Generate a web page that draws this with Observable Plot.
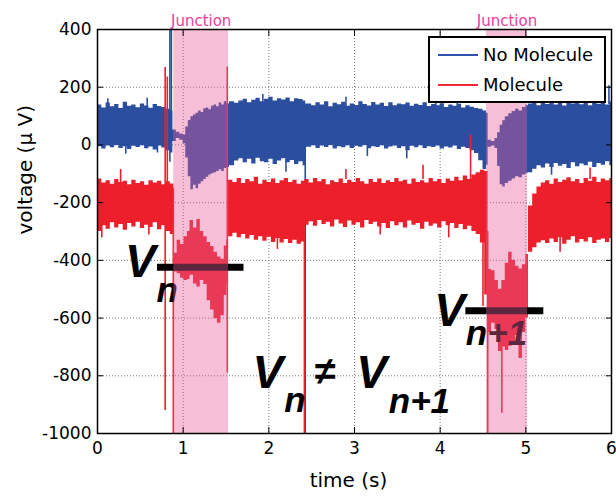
<!DOCTYPE html>
<html><head><meta charset="utf-8">
<script src="https://cdn.jsdelivr.net/npm/d3@7"></script>
<script src="https://cdn.jsdelivr.net/npm/@observablehq/plot@0.6"></script>
<style>
body{margin:0;background:#fff;}
#wrap{position:relative;width:616px;height:496px;}
#legend{position:absolute;left:428px;top:36px;width:174px;height:63px;border:2px solid #000;background:#fff;font-family:"DejaVu Sans",sans-serif;font-size:18px;color:#000;}
#legend .sw{position:absolute;left:8px;width:40px;height:0;border-top:2px solid;}
#legend .lb{position:absolute;left:53px;line-height:20px;}
</style></head>
<body><div id="wrap"><div id="legend">
<div class="sw" style="top:16px;border-color:#3352b0"></div><div class="lb" style="top:7px">No Molecule</div>
<div class="sw" style="top:46px;border-color:#f02a30"></div><div class="lb" style="top:37px">Molecule</div>
</div></div>
<script>
// ---- data ----
const xTicks = [0, 1, 2, 3, 4, 5, 6];
const yTicks = [-1000, -800, -600, -400, -200, 0, 200, 400];

const junctionStart = [0.89, 4.54];
const junctionEnd = [1.53, 5.02];
const junctionLabel = ["Junction", "Junction"];

// No Molecule (blue) envelope: time, low, high (µV)
const blueT  = [0.00,0.05,0.10,0.15,0.20,0.25,0.30,0.35,0.40,0.45,0.50,0.55,0.60,0.65,0.70,0.75,0.80,0.85,0.88,0.92,0.96,1.00,1.03,1.06,1.09,1.12,1.15,1.18,1.21,1.24,1.27,1.30,1.33,1.36,1.39,1.42,1.45,1.48,1.51,1.54,1.60,1.65,1.70,1.75,1.80,1.85,1.90,1.95,2.00,2.05,2.10,2.15,2.20,2.25,2.30,2.35,2.40,2.43,2.50,2.55,2.60,2.65,2.70,2.75,2.80,2.85,2.90,2.95,3.00,3.05,3.10,3.15,3.20,3.25,3.30,3.35,3.40,3.45,3.50,3.55,3.60,3.65,3.70,3.75,3.80,3.85,3.90,3.95,4.00,4.05,4.10,4.15,4.20,4.25,4.30,4.35,4.40,4.45,4.50,4.54,4.56,4.60,4.64,4.67,4.70,4.73,4.76,4.80,4.84,4.88,4.92,4.96,5.00,5.03,5.08,5.13,5.18,5.23,5.28,5.33,5.38,5.43,5.48,5.53,5.58,5.63,5.68,5.73,5.78,5.83,5.88,5.93,5.98,6.00];
const blueLo = [-6,-14,-4,-10,-2,-12,-6,-16,-5,-9,-3,-13,-7,-18,-4,-11,-20,-28,12,22,16,4,-45,-110,-155,-140,-152,-136,-128,-120,-112,-104,-100,-96,-92,-86,-92,-82,-78,-72,-56,-48,-62,-50,-66,-46,-58,-62,-50,-68,-56,-48,-62,-54,-68,-58,-72,-8,-3,-12,-4,-9,-2,-14,-6,-10,-3,-12,-5,-8,-2,-13,-6,-9,-3,-14,-7,-4,-12,-6,-20,-5,-10,-3,-12,-6,-9,-4,-14,-7,-11,-4,-16,-8,-12,-20,-30,-55,-85,-70,-8,-4,-12,-75,-138,-146,-134,-126,-118,-110,-114,-104,-98,-96,-84,-72,-80,-66,-78,-64,-74,-68,-82,-62,-76,-66,-72,-60,-78,-64,-70,-58,-72,-66];
const blueHi = [138,128,145,132,140,126,148,134,138,129,142,135,127,140,133,130,124,118,52,44,38,34,62,85,98,104,110,118,112,125,128,122,134,138,132,145,138,150,142,150,144,152,158,146,155,162,150,158,165,152,160,156,163,150,160,157,152,142,136,146,138,150,132,144,139,148,134,142,137,150,140,135,147,138,144,133,146,136,142,139,145,134,141,137,146,133,140,136,143,130,138,134,141,128,136,131,126,124,118,110,16,12,22,42,68,84,98,108,116,124,118,130,136,142,148,136,145,140,150,138,146,135,148,142,152,139,147,136,150,141,146,138,150,144];

// Molecule (red) envelope: time, low, high (µV)
const redT  = [0.00,0.05,0.10,0.15,0.20,0.25,0.30,0.35,0.40,0.45,0.50,0.55,0.60,0.65,0.70,0.75,0.80,0.85,0.89,0.93,0.97,1.01,1.05,1.08,1.12,1.16,1.20,1.24,1.28,1.32,1.36,1.40,1.44,1.48,1.51,1.53,1.58,1.63,1.68,1.73,1.78,1.83,1.88,1.93,1.98,2.03,2.08,2.13,2.18,2.23,2.28,2.33,2.38,2.42,2.47,2.52,2.57,2.62,2.67,2.72,2.77,2.82,2.87,2.92,2.97,3.02,3.07,3.12,3.17,3.22,3.27,3.32,3.37,3.42,3.47,3.52,3.57,3.62,3.67,3.72,3.77,3.82,3.87,3.92,3.97,4.02,4.07,4.12,4.17,4.22,4.27,4.32,4.37,4.42,4.47,4.52,4.56,4.60,4.64,4.68,4.72,4.76,4.80,4.84,4.88,4.92,4.96,5.00,5.03,5.08,5.13,5.18,5.23,5.28,5.33,5.38,5.43,5.48,5.53,5.58,5.63,5.68,5.73,5.78,5.83,5.88,5.93,5.98,6.00];
const redLo = [-300,-280,-292,-270,-288,-276,-296,-272,-284,-268,-290,-278,-286,-270,-294,-280,-300,-310,-440,-446,-462,-470,-466,-452,-482,-492,-470,-484,-540,-572,-602,-618,-592,-522,-482,-318,-306,-322,-310,-326,-314,-330,-318,-334,-320,-338,-324,-340,-328,-342,-330,-344,-336,-278,-266,-282,-262,-276,-268,-284,-260,-274,-286,-264,-278,-270,-288,-262,-276,-268,-284,-272,-290,-266,-280,-270,-288,-264,-278,-272,-292,-268,-282,-274,-288,-266,-280,-272,-290,-276,-294,-282,-300,-310,-340,-520,-650,-618,-640,-716,-700,-712,-698,-688,-660,-740,-650,-600,-372,-356,-340,-332,-342,-326,-338,-322,-344,-330,-318,-340,-328,-336,-322,-342,-330,-326,-338,-324,-332];
const redHi = [-118,-132,-124,-136,-120,-130,-126,-138,-122,-134,-128,-140,-124,-132,-126,-138,-128,-135,-375,-330,-345,-318,-300,-262,-288,-258,-300,-318,-338,-352,-372,-388,-396,-350,-330,-122,-130,-116,-134,-120,-128,-112,-136,-122,-130,-118,-134,-124,-116,-130,-122,-136,-126,-120,-132,-116,-128,-120,-138,-124,-130,-118,-134,-122,-130,-116,-128,-136,-120,-130,-118,-134,-124,-130,-116,-128,-122,-136,-118,-130,-124,-132,-116,-128,-120,-134,-118,-126,-112,-124,-108,-120,-104,-96,-88,-92,-432,-436,-470,-500,-470,-410,-372,-400,-420,-430,-415,-380,-212,-170,-146,-132,-124,-136,-118,-130,-122,-114,-128,-120,-134,-116,-126,-112,-130,-118,-124,-116,-122];

// isolated spikes: time, from, to (µV)
const blueSpikeT  = [0.845,0.862,2.425,0.12,0.33,0.58,0.70,1.93,2.20,2.90,3.15,3.61,3.95,4.20,5.30,5.60,5.97];
const blueSpikeLo = [-60,20,-1000,120,-32,120,-28,140,-95,130,-40,-48,130,130,-105,140,140];
const blueSpikeHi = [400,400,0,160,0,162,0,175,-50,165,0,0,162,158,-60,168,205];
const redSpikeT  = [0.79,0.815,0.885,1.515,2.415,4.355,4.50,4.555,4.72,0.05,0.27,0.60,2.10,2.90,3.30,3.80,4.10,5.40,5.75];
const redSpikeLo = [-920,-300,-1000,-790,-1000,-280,-560,-1000,-930,-322,-160,-312,-362,-120,-312,-120,-322,-372,-120];
const redSpikeHi = [268,235,-150,270,-130,35,-100,-300,-500,-270,-85,-270,-320,-85,-270,-70,-270,-320,-80];

// annotations
const annoLineStart = [0.70, 4.30];
const annoLineEnd = [1.71, 5.21];
const annoLineV = [-424, -575];
const bigLetter = ["V", "V", "V", "V"];
const bigT = [0.32, 1.81, 3.02, 3.93];
const bigV = [-459, -844, -844, -626];
const subLetter = ["n", "n", "n+1", "n+1"];
const subT = [0.69, 2.18, 3.40, 4.30];
const subV = [-543, -927, -930, -695];
const relText = ["≠"];
const relT = [2.66];
const relV = [-785];

// ---- build tables ----
const zipEnv = (T, L, H) => T.map((t, i) => ({t, lo: L[i], hi: H[i]}));
const blue = zipEnv(blueT, blueLo, blueHi);
const red = zipEnv(redT, redLo, redHi);
const blueSp = zipEnv(blueSpikeT, blueSpikeLo, blueSpikeHi);
const redSp = zipEnv(redSpikeT, redSpikeLo, redSpikeHi);
const junctions = junctionStart.map((s, i) => ({t1: s, t2: junctionEnd[i], label: junctionLabel[i]}));
const annoLines = annoLineStart.map((s, i) => ({t1: s, t2: annoLineEnd[i], v: annoLineV[i]}));
const bigs = bigLetter.map((s, i) => ({s, t: bigT[i], v: bigV[i]}));
const subs = subLetter.map((s, i) => ({s, t: subT[i], v: subV[i]}));
const rels = relText.map((s, i) => ({s, t: relT[i], v: relV[i]}));

const BLUE = "#2b4e9e", RED = "#ec1f2a";
const annoFont = {fontFamily: "Liberation Sans, Arial, sans-serif", fontWeight: "bold", fontStyle: "italic", fill: "#000"};

const chart = Plot.plot({
  width: 616, height: 496,
  marginLeft: 97, marginRight: 5, marginTop: 29, marginBottom: 63,
  x: {domain: [0, 6]},
  y: {domain: [-1000, 400]},
  style: {fontFamily: "DejaVu Sans, sans-serif", background: "#fff", overflow: "visible"},
  marks: [
    Plot.gridX(xTicks, {stroke: "#777", strokeOpacity: 1, strokeDasharray: "1,2"}),
    Plot.gridY(yTicks, {stroke: "#777", strokeOpacity: 1, strokeDasharray: "1,2"}),
    Plot.areaY(blue, {x: "t", y1: "lo", y2: "hi", fill: BLUE, curve: "step-after", clip: true}),
    Plot.ruleX(blueSp, {x: "t", y1: "lo", y2: "hi", stroke: BLUE, strokeWidth: 1.6, clip: true}),
    Plot.areaY(red, {x: "t", y1: "lo", y2: "hi", fill: RED, curve: "step-after", clip: true}),
    Plot.ruleX(redSp, {x: "t", y1: "lo", y2: "hi", stroke: RED, strokeWidth: 1.6, clip: true}),
    Plot.ruleY(annoLines, {y: "v", x1: "t1", x2: "t2", stroke: "#000", strokeWidth: 7}),
    Plot.text(bigs, {x: "t", y: "v", text: "s", fontSize: 46, textAnchor: "start", lineAnchor: "bottom", ...annoFont}),
    Plot.text(subs, {x: "t", y: "v", text: "s", fontSize: 35, textAnchor: "start", lineAnchor: "bottom", ...annoFont}),
    Plot.text(rels, {x: "t", y: "v", text: "s", fontSize: 38, textAnchor: "middle", lineAnchor: "middle", ...annoFont, fontStyle: "normal"}),
    Plot.rect(junctions, {x1: "t1", x2: "t2", fill: "#e8609c", fillOpacity: 0.4}),
    Plot.text(junctions, {x: d => (d.t1 + d.t2) / 2, text: "label", frameAnchor: "top", dy: -4, lineAnchor: "bottom", fill: "#ec3c9c", fontSize: 15}),
    Plot.frame({stroke: "#000", strokeWidth: 1.5}),
    Plot.axisX(xTicks, {anchor: "bottom", tickSize: -6, tickPadding: 14, fontSize: 17, label: null, tickFormat: d => String(d)}),
    Plot.axisX(xTicks, {anchor: "top", tickSize: -6, tickFormat: () => "", label: null}),
    Plot.axisY(yTicks, {anchor: "left", tickSize: -6, tickPadding: 12, fontSize: 17, label: null, tickFormat: d => String(d)}),
    Plot.axisY(yTicks, {anchor: "right", tickSize: -6, tickFormat: () => "", label: null}),
    Plot.text(["time (s)"], {frameAnchor: "bottom", dx: -6, dy: 53, fontSize: 20, fill: "#000"}),
    Plot.text(["voltage (\u00b5 V)"], {frameAnchor: "left", dx: -72, dy: 3, rotate: -90, fontSize: 20, fill: "#000"})
  ]
});
document.getElementById("wrap").prepend(chart);
</script>
</body></html>
